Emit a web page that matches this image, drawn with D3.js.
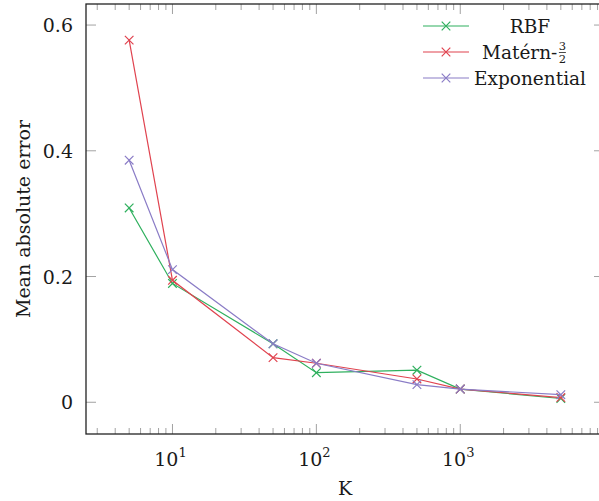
<!DOCTYPE html>
<html>
<head>
<meta charset="utf-8">
<script src="https://cdn.jsdelivr.net/npm/d3@7"></script>
<style>
  body { margin: 0; background: #fff; }
</style>
</head>
<body>
<div id="plot"></div>
<script>
// K values on the x axis
const kValues = [5, 10, 50, 100, 500, 1000, 5000];
// mean absolute error per kernel
const rbfValues = [0.309, 0.189, 0.093, 0.047, 0.051, 0.021, 0.006];
const maternValues = [0.576, 0.194, 0.071, 0.062, 0.037, 0.021, 0.0075];
const expValues = [0.385, 0.211, 0.093, 0.062, 0.028, 0.021, 0.012];
const seriesNames = ["RBF", "Matérn-", "Exponential"];
const yTicks = [0, 0.2, 0.4, 0.6];
const xTicks = [10, 100, 1000];

const width = 599, height = 501;
const margin = { top: 4, right: -5, bottom: 67, left: 86 };
const serif = "DejaVu Serif";

const svg = d3.select("div#plot")
    .append("svg")
    .attr("width", width)
    .attr("height", height)
    .style("font-family", serif);

const xScale = d3.scaleLog()
    .domain([Math.pow(10, 0.399), Math.pow(10, 3.999)])
    .range([margin.left, width - margin.right]);

const yScale = d3.scaleLinear()
    .domain([-0.0505, 0.6335])
    .range([height - margin.bottom, margin.top]);

const colors = ["#2fb05e", "#e0434f", "#8a7cc6"];
const series = [rbfValues, maternValues, expValues];

const x0 = margin.left, x1 = width - margin.right;
const y0 = height - margin.bottom, y1 = margin.top;
const textColor = "#1a1a1a";

// minor ticks (2..9 per decade) on bottom and top
const minor = [];
for (let e = 0; e <= 3; e++) {
    for (let m = 2; m <= 9; m++) {
        const v = m * Math.pow(10, e);
        if (xScale(v) > x0 && xScale(v) < x1) minor.push(v);
    }
}
const tickColor = "#8a8a8a";
minor.forEach(v => {
    svg.append("line").attr("x1", xScale(v)).attr("x2", xScale(v))
        .attr("y1", y0).attr("y2", y0 - 6).attr("stroke", tickColor).attr("stroke-width", 0.8);
    svg.append("line").attr("x1", xScale(v)).attr("x2", xScale(v))
        .attr("y1", y1).attr("y2", y1 + 6).attr("stroke", tickColor).attr("stroke-width", 0.8);
});
xTicks.forEach(v => {
    svg.append("line").attr("x1", xScale(v)).attr("x2", xScale(v))
        .attr("y1", y0).attr("y2", y0 - 10).attr("stroke", tickColor).attr("stroke-width", 0.8);
    svg.append("line").attr("x1", xScale(v)).attr("x2", xScale(v))
        .attr("y1", y1).attr("y2", y1 + 10).attr("stroke", tickColor).attr("stroke-width", 0.8);
    const t = svg.append("text")
        .attr("x", xScale(v) - 2)
        .attr("y", y0 + 32)
        .attr("text-anchor", "middle")
        .attr("fill", textColor)
        .style("font-size", "19px");
    t.append("tspan").text("10");
    t.append("tspan").attr("dy", -9).style("font-size", "13px").text(Math.round(Math.log10(v)));
});
yTicks.forEach(v => {
    svg.append("line").attr("x1", x0).attr("x2", x0 + 10)
        .attr("y1", yScale(v)).attr("y2", yScale(v)).attr("stroke", tickColor).attr("stroke-width", 0.8);
    svg.append("line").attr("x1", x1).attr("x2", x1 - 10)
        .attr("y1", yScale(v)).attr("y2", yScale(v)).attr("stroke", tickColor).attr("stroke-width", 0.8);
    svg.append("text")
        .attr("x", x0 - 13)
        .attr("y", yScale(v) + 7)
        .attr("text-anchor", "end")
        .attr("fill", textColor)
        .style("font-size", "19px")
        .text(v === 0 ? "0" : v.toFixed(1));
});

// frame
svg.append("rect")
    .attr("x", x0).attr("y", y1)
    .attr("width", x1 - x0).attr("height", y0 - y1)
    .attr("fill", "none").attr("stroke", "#222").attr("stroke-width", 1.3);

// the lines
const line = d3.line()
    .x((d, i) => xScale(kValues[i]))
    .y(d => yScale(d));

function cross(g, cx, cy, color) {
    const s = 4.3;
    g.append("path")
        .attr("d", `M${cx - s},${cy - s}L${cx + s},${cy + s}M${cx - s},${cy + s}L${cx + s},${cy - s}`)
        .attr("stroke", color).attr("stroke-width", 1.2).attr("fill", "none");
}

series.forEach((vals, si) => {
    const g = svg.append("g");
    g.append("path")
        .datum(vals)
        .attr("d", line)
        .attr("fill", "none")
        .attr("stroke", colors[si])
        .attr("stroke-width", 1.2);
    vals.forEach((d, i) => cross(g, xScale(kValues[i]), yScale(d), colors[si]));
});

// legend
const legend = svg.append("g");
seriesNames.forEach((name, i) => {
    const ly = 26 + i * 26;
    legend.append("line")
        .attr("x1", 423).attr("x2", 469)
        .attr("y1", ly).attr("y2", ly)
        .attr("stroke", colors[i]).attr("stroke-width", 1.2);
    cross(legend, 446, ly, colors[i]);
    const t = legend.append("text")
        .attr("x", i === 1 ? 482 : 530)
        .attr("y", ly + 7)
        .attr("text-anchor", i === 1 ? "start" : "middle")
        .attr("fill", textColor)
        .style("font-size", "18.5px")
        .text(name);
    if (i === 1) {
        // fraction 3/2 right after the text
        const fx = 482 + t.node().getComputedTextLength() + 5;
        legend.append("text").attr("x", fx).attr("y", ly - 2)
            .attr("text-anchor", "middle").attr("fill", textColor)
            .style("font-size", "11.5px").text("3");
        legend.append("line").attr("x1", fx - 3.5).attr("x2", fx + 3.5)
            .attr("y1", ly + 0.5).attr("y2", ly + 0.5).attr("stroke", textColor).attr("stroke-width", 0.8);
        legend.append("text").attr("x", fx).attr("y", ly + 10.5)
            .attr("text-anchor", "middle").attr("fill", textColor)
            .style("font-size", "11.5px").text("2");
    }
});

// axis labels
svg.append("text")
    .attr("x", (x0 + x1) / 2)
    .attr("y", 495)
    .attr("text-anchor", "middle")
    .attr("fill", textColor)
    .style("font-size", "19px")
    .text("K");

svg.append("text")
    .attr("transform", `translate(30, ${(y0 + y1) / 2}) rotate(-90)`)
    .attr("text-anchor", "middle")
    .attr("fill", textColor)
    .style("font-size", "19px")
    .text("Mean absolute error");
</script>
</body>
</html>
